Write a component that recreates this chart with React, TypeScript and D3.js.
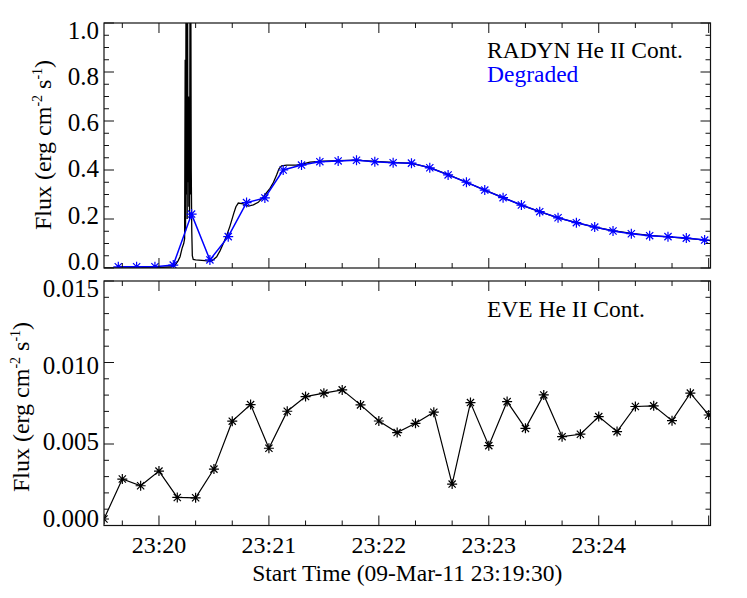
import React from "react";
import * as d3 from "d3";

// ---- data ----
// RADYN He II continuum (high cadence), seconds after 23:19:30, flux
const radynT = [0, 10, 20, 30, 36, 38.7, 40.5, 41.5, 42.6, 43.5, 44.0, 44.3, 44.5, 44.8, 45.0, 45.2, 45.4, 45.6, 45.8, 46.1, 46.3, 46.5, 46.7, 47.0, 47.2, 47.4, 47.6, 47.9, 48.2, 48.7, 50, 55.1, 57.8, 59, 61.5, 63.3, 65.1, 66.8, 68.7, 70.9, 72, 73.3, 76, 78.7, 81.5, 84.2, 86.9, 88.5, 90.6, 92.5, 94.2, 95.5, 96.9, 99.7, 105.1, 108.7, 112.4, 119.6, 127.8, 137.8, 147.8, 157.8, 167.8, 177.8, 187.8, 197.8, 207.8, 217.8, 227.8, 237.8, 247.8, 257.8, 267.8, 277.8, 287.8, 297.8, 307.8, 317.8, 327.8, 331];
const radynV = [0, 0, 0.001, 0.002, 0.004, 0.01, 0.03, 0.046, 0.08, 0.1, 0.12, 0.85, 0.15, 1.3, 0.3, 1.5, 0.2, 1.2, 0.35, 0.7, 0.25, 0.5, 0.2, 1.4, 0.3, 1.1, 0.41, 0.15, 0.05, 0.035, 0.033, 0.03, 0.027, 0.03, 0.046, 0.07, 0.1, 0.13, 0.17, 0.225, 0.25, 0.265, 0.262, 0.253, 0.258, 0.268, 0.29, 0.305, 0.325, 0.35, 0.38, 0.405, 0.417, 0.42, 0.42, 0.425, 0.432, 0.436, 0.438, 0.44, 0.435, 0.431, 0.427, 0.41, 0.381, 0.35, 0.318, 0.287, 0.257, 0.23, 0.205, 0.185, 0.167, 0.152, 0.141, 0.133, 0.127, 0.121, 0.115, 0.112];

// Degraded (EVE-cadence) RADYN
const degT = [7.8, 17.8, 27.8, 37.8, 47.8, 57.8, 67.8, 77.8, 87.8, 97.8, 107.8, 117.8, 127.8, 137.8, 147.8, 157.8, 167.8, 177.8, 187.8, 197.8, 207.8, 217.8, 227.8, 237.8, 247.8, 257.8, 267.8, 277.8, 287.8, 297.8, 307.8, 317.8, 327.8];
const degV = [0.005, 0.005, 0.005, 0.012, 0.22, 0.033, 0.128, 0.267, 0.286, 0.40, 0.42, 0.434, 0.437, 0.44, 0.434, 0.43, 0.428, 0.409, 0.38, 0.35, 0.318, 0.287, 0.257, 0.23, 0.205, 0.185, 0.167, 0.151, 0.14, 0.132, 0.128, 0.122, 0.114];

// EVE He II continuum
const eveT = [0, 10, 20, 30, 40, 50, 60, 70, 80, 90, 100, 110, 120, 130, 140, 150, 160, 170, 180, 190, 200, 210, 220, 230, 240, 250, 260, 270, 280, 290, 300, 310, 320, 330];
const eveV = [0.0004, 0.00285, 0.00244, 0.00334, 0.00172, 0.0017, 0.00346, 0.0064, 0.00742, 0.00474, 0.00701, 0.00791, 0.00812, 0.00832, 0.0074, 0.00641, 0.0057, 0.00627, 0.00695, 0.00254, 0.00754, 0.0049, 0.0076, 0.00596, 0.00801, 0.00545, 0.0056, 0.00668, 0.00576, 0.0073, 0.00734, 0.00643, 0.00812, 0.00678];

const xMajor = [30, 90, 150, 210, 270, 330];
const xLabels = ["23:20", "23:21", "23:22", "23:23", "23:24", ""];
const xMinor = [10, 50, 70, 110, 130, 170, 190, 230, 250, 290, 310];
const topMajor = [0, 0.2, 0.4, 0.6, 0.8, 1.0];
const topLabels = ["0.0", "0.2", "0.4", "0.6", "0.8", "1.0"];
const topMinor = [0.05, 0.1, 0.15, 0.25, 0.3, 0.35, 0.45, 0.5, 0.55, 0.65, 0.7, 0.75, 0.85, 0.9, 0.95];
const botMajor = [0, 0.005, 0.01, 0.015];
const botLabels = ["0.000", "0.005", "0.010", "0.015"];
const botMinor = [0.001, 0.002, 0.003, 0.004, 0.006, 0.007, 0.008, 0.009, 0.011, 0.012, 0.013, 0.014];

const FONT = "'Liberation Serif', 'DejaVu Serif', serif";
const L = 104, R = 710.5;
const TOP = { t: 23, b: 268 };
const BOT = { t: 281, b: 525.5 };

function Star({ cx, cy, color }: { cx: number; cy: number; color: string }) {
  const r = 5, a = 3.6;
  return (
    <path
      d={`M${cx - r},${cy}h${2 * r}M${cx},${cy - r}v${2 * r}M${cx - a},${cy - a}l${2 * a},${2 * a}M${cx - a},${cy + a}l${2 * a},${-2 * a}`}
      stroke={color}
      strokeWidth={1.2}
      fill="none"
    />
  );
}

function Frame({ y, yMajor, yMinor, yLabels, t, b }: any) {
  const x = d3.scaleLinear().domain([0, 331]).range([L, R]);
  const yl = d3.scaleLinear().domain(y.domain()).range([b - 7, t + 7]);
  const els: any[] = [];
  const stroke = "#111";
  xMajor.forEach((v, i) => {
    const px = x(v);
    els.push(<line key={"xM" + i} x1={px} x2={px} y1={b} y2={b - 10} stroke={stroke} />);
    els.push(<line key={"xMt" + i} x1={px} x2={px} y1={t} y2={t + 10} stroke={stroke} />);
  });
  xMinor.forEach((v, i) => {
    const px = x(v);
    els.push(<line key={"xm" + i} x1={px} x2={px} y1={b} y2={b - 5} stroke={stroke} />);
    els.push(<line key={"xmt" + i} x1={px} x2={px} y1={t} y2={t + 5} stroke={stroke} />);
  });
  yMajor.forEach((v: number, i: number) => {
    const py = y(v);
    els.push(<line key={"yM" + i} x1={L} x2={L + 10} y1={py} y2={py} stroke={stroke} />);
    els.push(<line key={"yMr" + i} x1={R} x2={R - 10} y1={py} y2={py} stroke={stroke} />);
    els.push(
      <text key={"yl" + i} x={99} y={yl(v)} dy="0.35em" textAnchor="end" fontFamily={FONT} fontSize={25} fill="#000">
        {yLabels[i]}
      </text>
    );
  });
  yMinor.forEach((v: number, i: number) => {
    const py = y(v);
    els.push(<line key={"ym" + i} x1={L} x2={L + 5} y1={py} y2={py} stroke={stroke} />);
    els.push(<line key={"ymr" + i} x1={R} x2={R - 5} y1={py} y2={py} stroke={stroke} />);
  });
  return (
    <g>
      {els}
      <rect x={L} y={t} width={R - L} height={b - t} fill="none" stroke={stroke} strokeWidth={1.2} />
    </g>
  );
}

export default function App() {
  const x = d3.scaleLinear().domain([0, 331]).range([L, R]);
  const yTop = d3.scaleLinear().domain([0, 1]).range([TOP.b, TOP.t]);
  const yBot = d3.scaleLinear().domain([0, 0.015]).range([BOT.b, BOT.t]);

  const radyn = radynT.map((t, i) => [t, radynV[i]] as [number, number]);
  const deg = degT.map((t, i) => [t, degV[i]] as [number, number]);
  const eve = eveT.map((t, i) => [t, eveV[i]] as [number, number]);

  const lineTop = d3.line<[number, number]>().x((d) => x(d[0])).y((d) => yTop(d[1]));
  const lineBot = d3.line<[number, number]>().x((d) => x(d[0])).y((d) => yBot(d[1]));

  return (
    <svg width={747} height={598} style={{ position: "absolute", left: 0, top: 0, background: "#fff" }}>
      <defs>
        <clipPath id="clipTop">
          <rect x={L} y={TOP.t} width={R - L} height={TOP.b - TOP.t} />
        </clipPath>
        <clipPath id="clipBot">
          <rect x={L} y={BOT.t} width={R - L} height={BOT.b - BOT.t} />
        </clipPath>
      </defs>
      <rect x={0} y={0} width={747} height={598} fill="#fff" />

      {/* top panel */}
      <g clipPath="url(#clipTop)">
        <path d={lineTop(radyn) || ""} fill="none" stroke="#000" strokeWidth={1.3} />
        <path d={lineTop(deg) || ""} fill="none" stroke="#0000ff" strokeWidth={1.5} />
        {deg.map((d, i) => (
          <Star key={i} cx={x(d[0])} cy={yTop(d[1])} color="#0000ff" />
        ))}
      </g>
      <Frame y={yTop} yMajor={topMajor} yMinor={topMinor} yLabels={topLabels} t={TOP.t} b={TOP.b} />
      <text x={487} y={58} fontFamily={FONT} fontSize={23.5} fill="#000">RADYN He II Cont.</text>
      <text x={487} y={82} fontFamily={FONT} fontSize={23.5} fill="#0000ff">Degraded</text>
      <text transform={`translate(51,145) rotate(-90)`} textAnchor="middle" fontFamily={FONT} fontSize={24} fill="#000">
        Flux (erg cm<tspan fontSize={14} dy={-9}>-2</tspan><tspan dy={9}> s</tspan><tspan fontSize={14} dy={-9}>-1</tspan><tspan dy={9}>)</tspan>
      </text>

      {/* bottom panel */}
      <g clipPath="url(#clipBot)">
        <path d={lineBot(eve) || ""} fill="none" stroke="#000" strokeWidth={1.2} />
        {eve.map((d, i) => (
          <Star key={i} cx={x(d[0])} cy={yBot(d[1])} color="#000" />
        ))}
      </g>
      <Frame y={yBot} yMajor={botMajor} yMinor={botMinor} yLabels={botLabels} t={BOT.t} b={BOT.b} />
      <text x={487} y={317} fontFamily={FONT} fontSize={23.5} fill="#000">EVE He II Cont.</text>
      <text transform={`translate(29,407) rotate(-90)`} textAnchor="middle" fontFamily={FONT} fontSize={24} fill="#000">
        Flux (erg cm<tspan fontSize={14} dy={-9}>-2</tspan><tspan dy={9}> s</tspan><tspan fontSize={14} dy={-9}>-1</tspan><tspan dy={9}>)</tspan>
      </text>

      {/* x tick labels */}
      {xMajor.map((v, i) => (
        <text key={i} x={x(v)} y={553} textAnchor="middle" fontFamily={FONT} fontSize={24} fill="#000">
          {xLabels[i]}
        </text>
      ))}
      <text x={(L + R) / 2} y={581} textAnchor="middle" fontFamily={FONT} fontSize={23.5} fill="#000">
        Start Time (09-Mar-11 23:19:30)
      </text>
    </svg>
  );
}
